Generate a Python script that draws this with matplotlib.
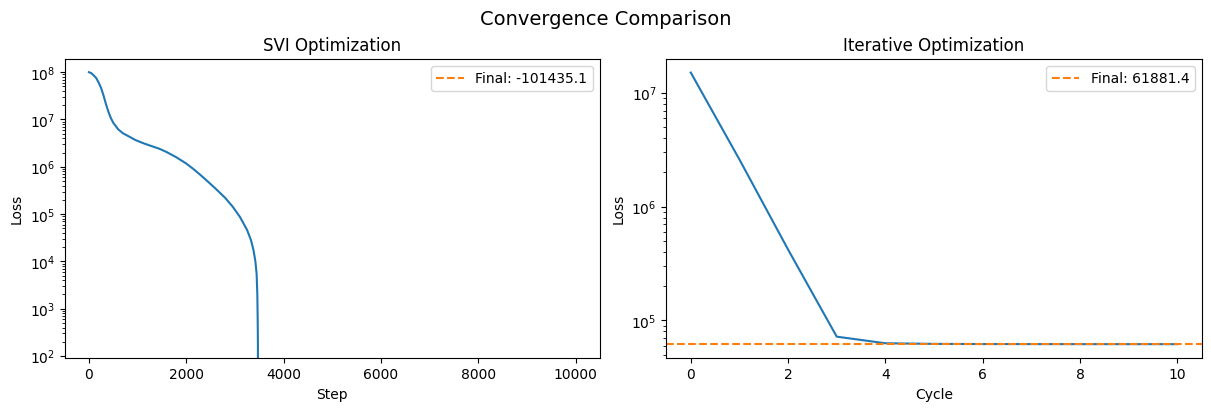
import matplotlib
matplotlib.use("Agg")
import matplotlib.pyplot as plt

# SVI optimization loss
svi_steps = [0, 50, 100, 150, 200, 250, 300, 350, 400, 450, 500, 600, 700, 800,
             950, 1100, 1250, 1450, 1600, 1800, 2000, 2150, 2300, 2450, 2600,
             2800, 2950, 3100, 3250, 3330, 3380, 3420, 3445, 3460, 3468, 3472,
             3480, 3600, 4000, 5000, 7000, 9999]
svi_loss = [1.00e8, 9.5e7, 8.5e7, 7.5e7, 6.0e7, 4.6e7, 3.2e7, 2.1e7, 1.45e7,
            1.07e7, 8.5e6, 6.2e6, 5.1e6, 4.5e6, 3.7e6, 3.2e6, 2.82e6, 2.4e6,
            2.04e6, 1.58e6, 1.17e6, 8.9e5, 6.6e5, 4.8e5, 3.47e5, 2.2e5, 1.45e5,
            8.8e4, 4.6e4, 2.8e4, 1.75e4, 1.0e4, 5.5e3, 2.0e3, 5.0e2, 1.8e2,
            -2.0e3, -3.0e4, -8.0e4, -1.0e5, -101400.0, -101435.1]
svi_final = -101435.1

# Iterative optimization loss per cycle
iter_cycles = [0, 1, 2, 3, 4, 5, 6, 7, 8, 9, 10]
iter_loss = [1.51e7, 2.6e6, 4.2e5, 7.2e4, 6.3e4, 6.22e4, 6.2e4, 6.195e4,
             6.19e4, 6.189e4, 61881.4]
iter_final = 61881.4

fig, (ax1, ax2) = plt.subplots(1, 2, figsize=(12, 4), dpi=100,
                               layout="constrained")
fig.suptitle("Convergence Comparison", fontsize=14)

ax1.plot(svi_steps, svi_loss, color="C0")
ax1.axhline(svi_final, color="C1", linestyle="--", label=f"Final: {svi_final:.1f}")
ax1.set_yscale("log")
ax1.set_ylim(92, 1.9e8)
ax1.set_title("SVI Optimization")
ax1.set_xlabel("Step")
ax1.set_ylabel("Loss")
ax1.legend(loc="upper right")

ax2.plot(iter_cycles, iter_loss, color="C0")
ax2.axhline(iter_final, color="C1", linestyle="--", label=f"Final: {iter_final:.1f}")
ax2.set_yscale("log")
ax2.set_title("Iterative Optimization")
ax2.set_xlabel("Cycle")
ax2.set_ylabel("Loss")
ax2.legend(loc="upper right")

fig.savefig("out.png", dpi=100, bbox_inches="tight")
